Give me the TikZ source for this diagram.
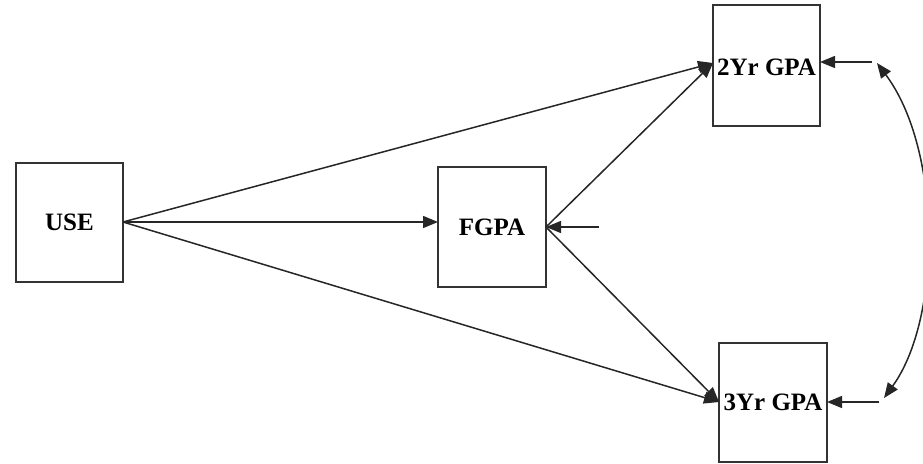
\documentclass[tikz,border=0pt]{standalone}
\usepackage{fontspec}
\setmainfont{Liberation Serif}
\usetikzlibrary{arrows.meta}
\begin{document}
\begin{tikzpicture}[x=1pt,y=-1pt,
  box/.style={draw=black!80,line width=1.5pt,inner sep=0pt,font=\fontsize{25}{28}\selectfont\bfseries},
  conn/.style={line width=1.5pt,draw=black!85,-{Triangle[length=15pt,width=12pt]}},
  plainline/.style={line width=1.5pt,draw=black!85}]
\useasboundingbox (0,0) rectangle (923,463);
\node[box,minimum width=107pt,minimum height=119pt] (use) at (69.5,222.5) {USE};
\node[box,minimum width=108pt,minimum height=120pt] (fgpa) at (492,227) {FGPA};
\node[box,minimum width=107pt,minimum height=121pt] (y2) at (766.5,65.5) {};
\node[font=\fontsize{25}{28}\selectfont\bfseries] (y2t) at (766.5,67) {2Yr GPA};
\node[box,minimum width=108pt,minimum height=119pt] (y3) at (773,402.5) {3Yr GPA};
\coordinate (use-e) at (123,222);
\coordinate (fgpa-e) at (546,227);
\coordinate (y2in) at (713,63);
\coordinate (y3in) at (719,402);
\coordinate (fgpain) at (438,222);
\coordinate (e1) at (599,227);
\coordinate (e2) at (872,62);
\coordinate (e3) at (879,402);
\coordinate (c1) at (877,63);
\coordinate (c2) at (884,398);
\draw[conn] (use-e) -- (y2in);
\draw[conn] (use-e) -- (fgpain);
\draw[conn] (use-e) -- (y3in);
\draw[conn] (fgpa-e) -- (y2in);
\draw[conn] (fgpa-e) -- (y3in);
\draw[conn] (e1) -- (fgpa-e);
\draw[conn] (e2) -- (820,62);
\draw[conn] (e3) -- (827,402);
\draw[line width=1.5pt,draw=black!85,{Triangle[length=15pt,width=12pt]}-{Triangle[length=15pt,width=12pt]}] (c1) .. controls (942,150) and (942,318) .. (c2);
\end{tikzpicture}
\end{document}
